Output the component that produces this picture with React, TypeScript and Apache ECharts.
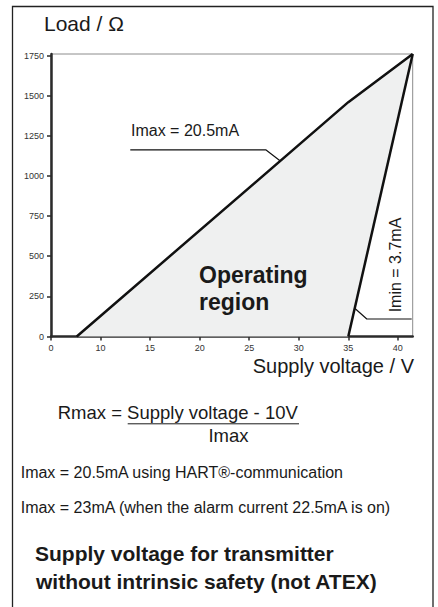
import React, { useEffect, useRef } from "react";
import * as echarts from "echarts";

// Data (supply voltage in V, load in ohm)
const imaxVoltage = [7.6, 35, 41.5];
const imaxLoad = [0, 1460, 1760];
const iminVoltage = [35, 41.5];
const iminLoad = [0, 1760];

// Annotation leader lines (data coordinates)
const imaxLeaderVoltage = [13.0, 26.67, 28.11];
const imaxLeaderLoad = [1163, 1163, 1095];
const iminLeaderVoltage = [35.65, 36.87, 41.4];
const iminLeaderLoad = [176, 109, 109];

// Axis ticks
const xTicks = [5, 10, 15, 20, 25, 30, 35, 40];
const xTickLabels = ["0", "10", "15", "20", "25", "30", "35", "40"];
const yTicks = [0, 250, 500, 750, 1000, 1250, 1500, 1750];
const yTickLabels = ["0", "250", "500", "750", "1000", "1250", "1500", "1750"];

const FONT = "'Liberation Sans', Arial, Helvetica, sans-serif";
const TEXT = "#1a1a1a";

function zip(a: number[], b: number[]) {
  return a.map((v, i) => [v, b[i]]);
}

export default function App() {
  const ref = useRef<HTMLDivElement>(null);

  useEffect(() => {
    if (!ref.current) return;
    const chart = echarts.init(ref.current, null, { renderer: "svg" });

    const imaxPts = zip(imaxVoltage, imaxLoad);
    const iminPts = zip(iminVoltage, iminLoad);
    const fillPts = [...imaxPts, ...iminPts.slice(0, -1).reverse()];

    const text = (
      t: string,
      x: number,
      y: number,
      size: number,
      opts: any = {}
    ) => ({
      type: "text",
      x,
      y,
      z: 100,
      rotation: opts.rotation || 0,
      style: {
        text: t,
        fill: TEXT,
        font: `${opts.bold ? "bold " : ""}${size}px ${FONT}`,
        textAlign: opts.align || "left",
        textVerticalAlign: "middle",
      },
    });

    chart.setOption({
      animation: false,
      backgroundColor: "#ffffff",
      grid: {
        left: 51,
        right: 25.3,
        top: 54,
        bottom: 270.5,
        show: true,
        borderColor: "#8c8c8c",
        borderWidth: 1,
        backgroundColor: "transparent",
        containLabel: false,
      },
      xAxis: {
        type: "value",
        min: 5,
        max: 41.5,
        splitLine: { show: false },
        axisLine: { onZero: false, lineStyle: { color: "#2b2b2b", width: 2.5 } },
        axisTick: {
          customValues: xTicks,
          length: 4,
          lineStyle: { color: "#2b2b2b", width: 1.5 },
        },
        axisLabel: {
          customValues: xTicks,
          margin: 7,
          fontSize: 9,
          color: "#333",
          fontFamily: FONT,
          formatter: (v: number) => {
            const i = xTicks.indexOf(v);
            return i >= 0 ? xTickLabels[i] : "";
          },
        },
      },
      yAxis: {
        type: "value",
        min: 0,
        max: 1760,
        splitLine: { show: false },
        axisLine: { show: true, onZero: false, lineStyle: { color: "#2b2b2b", width: 2.5 } },
        axisTick: {
          show: true,
          customValues: yTicks,
          length: 4,
          lineStyle: { color: "#2b2b2b", width: 1.5 },
        },
        axisLabel: {
          customValues: yTicks,
          margin: 7,
          fontSize: 9,
          color: "#333",
          fontFamily: FONT,
          formatter: (v: number) => {
            const i = yTicks.indexOf(v);
            return i >= 0 ? yTickLabels[i] : "";
          },
        },
      },
      series: [
        {
          type: "custom",
          z: 1,
          silent: true,
          data: [[imaxVoltage[0], imaxLoad[0]]],
          renderItem: (_params: any, api: any) => ({
            type: "polygon",
            shape: { points: fillPts.map((p) => api.coord(p)) },
            style: { fill: "#eff0f0", stroke: "none" },
          }),
        },
        {
          type: "line",
          z: 3,
          data: imaxPts,
          symbol: "none",
          lineStyle: { color: "#111", width: 2.5 },
        },
        {
          type: "line",
          z: 3,
          data: iminPts,
          symbol: "none",
          lineStyle: { color: "#111", width: 2.5 },
        },
        {
          type: "line",
          z: 3,
          data: zip(imaxLeaderVoltage, imaxLeaderLoad),
          symbol: "none",
          lineStyle: { color: "#111", width: 1.2 },
        },
        {
          type: "line",
          z: 3,
          data: zip(iminLeaderVoltage, iminLeaderLoad),
          symbol: "none",
          lineStyle: { color: "#111", width: 1.2 },
        },
      ],
      graphic: [
        {
          type: "rect",
          z: 100,
          shape: { x: 12.5, y: 6.5, width: 420.5, height: 640 },
          style: { fill: "none", stroke: "#222", lineWidth: 1.3 },
        },
        text("Load / Ω", 44, 23.2, 21),
        text("Supply voltage / V", 414, 365.5, 20, { align: "right" }),
        text("Imax = 20.5mA", 131, 130.8, 16),
        text("Imin = 3.7mA", 395, 265, 16, { align: "center", rotation: Math.PI / 2 }),
        text("Operating", 199, 275, 23, { bold: true }),
        text("region", 199, 302, 23, { bold: true }),
        text("Rmax = Supply voltage - 10V", 57.7, 412.8, 18.5),
        {
          type: "line",
          z: 100,
          shape: { x1: 127.7, y1: 423.8, x2: 299, y2: 423.8 },
          style: { stroke: TEXT, lineWidth: 1 },
        },
        text("Imax", 228.5, 435.2, 18.5, { align: "center" }),
        text("Imax = 20.5mA using HART®-communication", 20.7, 472.5, 16),
        text("Imax = 23mA (when the alarm current 22.5mA is on)", 20.7, 507.5, 16),
        text("Supply voltage for transmitter", 35, 553.4, 21, { bold: true }),
        text("without intrinsic safety (not ATEX)", 36, 581.6, 21, { bold: true }),
      ],
    });

    return () => chart.dispose();
  }, []);

  return (
    <div
      ref={ref}
      style={{ position: "fixed", left: 0, top: 0, width: 438, height: 607, background: "#fff" }}
    />
  );
}
